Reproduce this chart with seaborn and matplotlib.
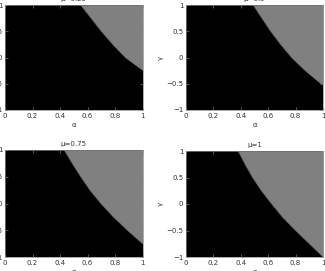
import matplotlib
matplotlib.use("Agg")
import matplotlib.pyplot as plt
import seaborn as sns
import pandas as pd

sns.set_style("white")
plt.rcParams['font.family'] = ['DejaVu Sans']

titles = ["μ=0.25", "μ=0.5", "μ=0.75", "μ=1"]
xticks = [0, 0.2, 0.4, 0.6, 0.8, 1]
yticks = [-1, -0.5, 0, 0.5, 1]
ytick_labels = ["−1", "−0.5", "0", "0.5", "1"]

# boundary of the grey region (alpha, gamma)
alpha_a = [0.55, 0.625, 0.70, 0.783, 0.875, 1.0]
gamma_a = [1.0, 0.75, 0.5, 0.25, 0.0, -0.24]
alpha_b = [0.49, 0.553, 0.617, 0.69, 0.77, 0.87, 0.985, 1.0]
gamma_b = [1.0, 0.75, 0.5, 0.25, 0.0, -0.25, -0.5, -0.52]
alpha_c = [0.43, 0.488, 0.55, 0.617, 0.697, 0.787, 0.89, 1.0]
gamma_c = [1.0, 0.75, 0.5, 0.25, 0.0, -0.25, -0.5, -0.75]
alpha_d = [0.38, 0.43, 0.485, 0.55, 0.625, 0.705, 0.80, 0.90, 1.0]
gamma_d = [1.0, 0.75, 0.5, 0.25, 0.0, -0.25, -0.5, -0.75, -1.0]

curves = [(alpha_a, gamma_a), (alpha_b, gamma_b), (alpha_c, gamma_c), (alpha_d, gamma_d)]

W, H = 325, 271
fig = plt.figure(figsize=(W / 100, H / 100), dpi=100)
# axes boxes in pixels: left, top, right, bottom
boxes = [(5, 5, 142.5, 110), (186, 5, 323, 110), (5, 150, 142.5, 257), (186, 151, 323, 257)]

fs = 5
tc = "#333333"
for i, ((l, t, r, b), (xa, ga)) in enumerate(zip(boxes, curves)):
    ax = fig.add_axes([l / W, 1 - b / H, (r - l) / W, (b - t) / H])
    ax.set_facecolor("black")
    df = pd.DataFrame({"alpha": xa, "gamma": ga})
    ax.fill_between(df["alpha"], df["gamma"], 1, color="#808080", linewidth=0)
    sns.lineplot(data=df, x="alpha", y="gamma", ax=ax, color="#6e6e6e", linewidth=0.4,
                 sort=False, estimator=None)
    ax.set_xlim(0, 1)
    ax.set_ylim(-1, 1)
    ax.set_xticks(xticks)
    ax.set_xticklabels([f"{v:g}" for v in xticks])
    ax.set_yticks(yticks)
    ax.set_yticklabels(ytick_labels)
    ax.tick_params(direction="in", length=2, width=0.4, colors="#999999",
                   labelcolor=tc, labelsize=fs, pad=2, top=True, right=True,
                   bottom=True, left=True)
    for s in ax.spines.values():
        s.set_color("#888888")
        s.set_linewidth(0.5)
    ax.set_xlabel("α", fontsize=fs, color=tc, labelpad=2)
    ax.set_ylabel("γ", fontsize=fs, color=tc, labelpad=2)
    ax.set_title(titles[i], fontsize=fs, color=tc, pad=3)

fig.savefig("out.png", dpi=100)
